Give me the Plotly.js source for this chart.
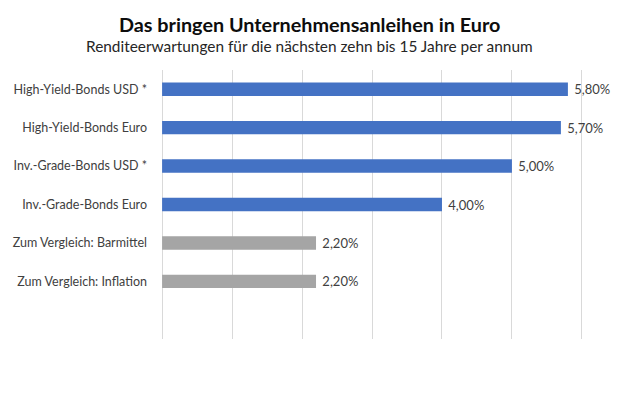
<!DOCTYPE html>
<html>
<head>
<meta charset="utf-8">
<script src="https://cdn.plot.ly/plotly-3.0.1.min.js"></script>
<style>html,body{margin:0;padding:0;background:#fff;}#chart{width:620px;height:413px;}</style>
</head>
<body>
<div id="chart"></div>
<script>
const categories = [
  "High-Yield-Bonds USD *",
  "High-Yield-Bonds Euro",
  "Inv.-Grade-Bonds USD *",
  "Inv.-Grade-Bonds Euro",
  "Zum Vergleich: Barmittel",
  "Zum Vergleich: Inflation"
];
const values = [5.80, 5.70, 5.00, 4.00, 2.20, 2.20];
const barColors = ["#4472C4", "#4472C4", "#4472C4", "#4472C4", "#A5A5A5", "#A5A5A5"];
const chartTitle = "Das bringen Unternehmensanleihen in Euro";
const chartSubtitle = "Renditeerwartungen für die nächsten zehn bis 15 Jahre per annum";

const FONT = "Lato, 'Open Sans', sans-serif";

// pad the x range a little so the gridlines at 0 and 6 are not clipped
const PAD = 0.03;
const UNIT = 69.87;
const ML = 162.5 - PAD * UNIT;
const MR = 38.3 - PAD * UNIT;
const plotW = 620 - ML - MR;
const pageCenterX = (310 - ML) / plotW;

const trace = {
  type: "bar",
  orientation: "h",
  y: categories,
  x: values,
  marker: { color: barColors },
  texttemplate: "\u00a0%{x:.2f}%",
  textposition: "outside",
  constraintext: "none",
  cliponaxis: false,
  textfont: { family: FONT, size: 13, color: "#404040" },
  hoverinfo: "skip",
  width: 0.35
};

const layout = {
  width: 620,
  height: 413,
  margin: { l: ML, r: MR, t: 69.5, b: 74.3, pad: 0 },
  paper_bgcolor: "#ffffff",
  plot_bgcolor: "#ffffff",
  separators: ",.",
  showlegend: false,
  font: { family: FONT, color: "#404040" },
  xaxis: {
    range: [-PAD, 6 + PAD],
    dtick: 1,
    tick0: 0,
    showgrid: true,
    gridcolor: "#d9d9d9",
    gridwidth: 1,
    zeroline: false,
    showline: false,
    showticklabels: false,
    ticks: "",
    fixedrange: true
  },
  yaxis: {
    type: "category",
    categoryorder: "array",
    categoryarray: categories,
    range: [6.5, -0.5],
    showgrid: false,
    zeroline: false,
    showline: false,
    ticks: "",
    ticklabelstandoff: 12,
    tickfont: { family: FONT, size: 12.5, color: "#404040" },
    fixedrange: true
  },
  annotations: [
    {
      text: "<b>" + chartTitle + "</b>",
      xref: "paper", yref: "paper",
      x: pageCenterX, y: 1,
      xanchor: "center", yanchor: "middle",
      yshift: 46.5,
      showarrow: false,
      font: { family: FONT, size: 19.8, color: "#0d0d0d" }
    },
    {
      text: chartSubtitle,
      xref: "paper", yref: "paper",
      x: pageCenterX, y: 1,
      xanchor: "center", yanchor: "middle",
      yshift: 24.5,
      showarrow: false,
      font: { family: FONT, size: 15.4, color: "#262626" }
    }
  ]
};

Plotly.newPlot("chart", [trace], layout, { staticPlot: true, displayModeBar: false });
</script>
</body>
</html>
